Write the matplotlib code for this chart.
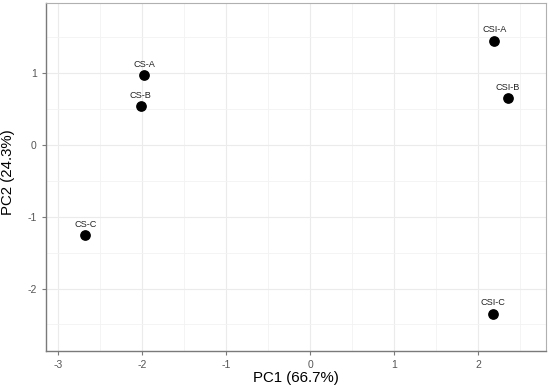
import matplotlib.pyplot as plt
from matplotlib.ticker import MultipleLocator

plt.rcParams["axes.unicode_minus"] = False
plt.rcParams["font.family"] = ["Liberation Sans", "DejaVu Sans"]

# PCA scores
samples = ["CS-A", "CS-B", "CS-C", "CSI-A", "CSI-B", "CSI-C"]
pc1 = [-1.98, -2.02, -2.68, 2.19, 2.35, 2.17]
pc2 = [0.97, 0.54, -1.26, 1.45, 0.65, -2.35]

fig = plt.figure(figsize=(5.5, 3.87), dpi=100)
ax = fig.add_axes([45.7 / 550, 1 - 351 / 387, 500 / 550, 348 / 387])

ax.scatter(pc1, pc2, s=45, color="black", zorder=3)
for name, x, y in zip(samples, pc1, pc2):
    ax.annotate(name, (x, y), xytext=(0, 4.5), textcoords="offset points",
                ha="center", va="bottom", fontsize=6.6, color="#222222")

ax.set_xlim(-3.15, 2.80)
ax.set_ylim(-2.87, 1.975)
ax.xaxis.set_major_locator(MultipleLocator(1))
ax.yaxis.set_major_locator(MultipleLocator(1))
ax.xaxis.set_minor_locator(MultipleLocator(0.5))
ax.yaxis.set_minor_locator(MultipleLocator(0.5))
ax.grid(which="major", color="#ebebeb", linewidth=0.8)
ax.grid(which="minor", color="#f3f3f3", linewidth=0.6)
ax.set_axisbelow(True)

for side in ["top", "right"]:
    ax.spines[side].set_color("#b0b0b0")
    ax.spines[side].set_linewidth(0.8)
for side in ["left", "bottom"]:
    ax.spines[side].set_color("#7a7a7a")
    ax.spines[side].set_linewidth(1.0)

ax.tick_params(which="major", length=3, color="#7a7a7a", labelsize=7.5,
               labelcolor="#555555")
ax.tick_params(which="minor", length=0)

ax.set_xlabel("PC1 (66.7%)", fontsize=10.8)
ax.set_ylabel("PC2 (24.3%)", fontsize=10.8)
ax.xaxis.set_label_coords(0.5, -0.057)
ax.yaxis.set_label_coords(-0.062, 0.515)

fig.savefig("out.png", dpi=100)
